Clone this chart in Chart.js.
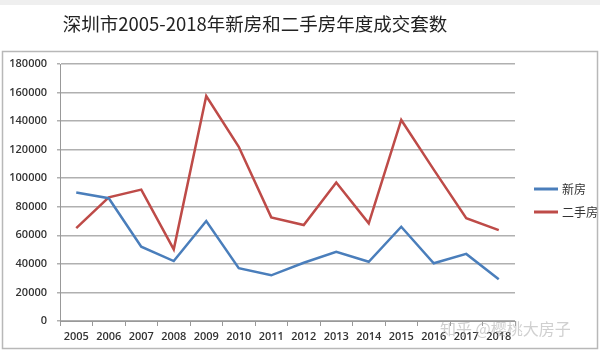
<!DOCTYPE html>
<html>
<head>
<meta charset="utf-8">
<script src="https://cdn.jsdelivr.net/npm/chart.js@4"></script>
<style>
  html, body { margin: 0; padding: 0; background: #fff; }
  #wrap { width: 600px; height: 353px; position: relative; }
</style>
</head>
<body>
<div id="wrap"><canvas id="chart" width="600" height="353"></canvas></div>
<script>
const years = ['2005', '2006', '2007', '2008', '2009', '2010', '2011', '2012', '2013', '2014', '2015', '2016', '2017', '2018'];
const newHomes = [90000, 86000, 52000, 42000, 70000, 37000, 32000, 40800, 48500, 41500, 66000, 40400, 47000, 29200];
const resale = [65000, 86600, 92000, 50200, 157600, 122000, 72600, 67200, 97000, 68400, 140800, 106000, 72000, 63700];
const seriesNames = ['新房', '二手房'];
const yTicks = [0, 20000, 40000, 60000, 80000, 100000, 120000, 140000, 160000, 180000];

const titleText = '深圳市2005-2018年新房和二手房年度成交套数';
const watermark = '知乎 @樱桃大房子';

// background, frame, title, legend and watermark
const decor = {
    id: 'decor',
    beforeDraw(chart) {
        const ctx = chart.ctx;
        ctx.save();
        ctx.fillStyle = '#fff';
        ctx.fillRect(0, 0, chart.width, chart.height);
        ctx.fillStyle = '#efefef';
        ctx.fillRect(0, 0, chart.width, 5);
        ctx.strokeStyle = '#b8b8b8';
        ctx.lineWidth = 1.5;
        ctx.strokeRect(2.5, 51.5, 595, 297);
        ctx.fillStyle = '#222';
        ctx.font = '18.5px "Noto Sans CJK SC"';
        ctx.textAlign = 'center';
        ctx.textBaseline = 'middle';
        ctx.fillText(titleText, 255, 24);
        ctx.restore();
    },
    afterDraw(chart) {
        const ctx = chart.ctx;
        ctx.save();
        const rows = [189, 212];
        chart.data.datasets.forEach((ds, i) => {
            ctx.strokeStyle = ds.borderColor;
            ctx.lineWidth = 3;
            ctx.beginPath();
            ctx.moveTo(534, rows[i]);
            ctx.lineTo(558, rows[i]);
            ctx.stroke();
            ctx.fillStyle = '#333';
            ctx.font = '12px "Noto Sans CJK SC"';
            ctx.textAlign = 'left';
            ctx.textBaseline = 'middle';
            ctx.fillText(ds.label, 562, rows[i]);
        });
        ctx.fillStyle = 'rgba(170,170,170,0.55)';
        ctx.font = '16px "Noto Sans CJK SC"';
        ctx.textAlign = 'left';
        ctx.fillText(watermark, 440, 329);
        ctx.restore();
    }
};

new Chart(document.getElementById('chart'), {
    type: 'line',
    data: {
        labels: years,
        datasets: [
            { label: seriesNames[0], data: newHomes, borderColor: '#4a7ebb', borderWidth: 2.5, pointRadius: 0, tension: 0 },
            { label: seriesNames[1], data: resale, borderColor: '#be4b48', borderWidth: 2.5, pointRadius: 0, tension: 0 }
        ]
    },
    options: {
        responsive: false,
        animation: false,
        layout: { padding: { left: 0, top: 64, right: 85, bottom: 0 } },
        plugins: { legend: { display: false }, title: { display: false }, tooltip: { enabled: false } },
        scales: {
            x: {
                offset: true,
                grid: { offset: true, drawOnChartArea: false, tickLength: 5, color: '#999' },
                border: { color: '#999', width: 1 },
                ticks: { color: '#333', font: { family: 'Open Sans', size: 11, weight: '600' }, padding: 4, maxRotation: 0, autoSkip: false },
                afterFit(scale) { scale.height = 32; }
            },
            y: {
                min: 0,
                max: 180000,
                afterBuildTicks(scale) { scale.ticks = yTicks.map(v => ({ value: v })); },
                grid: { color: '#b0b0b0', lineWidth: 1.5, tickLength: 3 },
                border: { color: '#999', width: 1 },
                ticks: {
                    color: '#333',
                    font: { family: 'Open Sans', size: 11, weight: '600' },
                    padding: 10,
                    callback: v => String(v)
                },
                afterFit(scale) { scale.width = 60; }
            }
        }
    },
    plugins: [decor]
});
</script>
</body>
</html>
